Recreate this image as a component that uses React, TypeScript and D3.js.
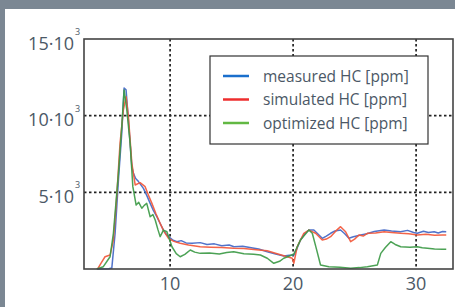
import React, { useEffect, useRef } from "react";
import * as d3 from "d3";

const W = 455;
const H = 307;

// time axis (x) and HC [ppm] (y)
const measured: [number, number][] = [
  [4.1, 0], [5.0, 20], [5.26, 60], [5.53, 2330], [5.8, 5800], [6.07, 8850], [6.26, 11800],
  [6.42, 11680], [6.61, 9720], [6.89, 6670], [7.02, 6240], [7.2, 5900], [7.43, 5700],
  [7.83, 5260], [8.1, 4800], [8.38, 4280], [8.65, 3800], [8.92, 3410], [9.2, 2950],
  [9.46, 2540], [9.7, 2250], [9.87, 2110], [10.2, 1900], [10.55, 1780], [10.9, 1850],
  [11.3, 1700], [11.8, 1680], [12.45, 1720], [13.0, 1600], [13.6, 1640], [14.2, 1520],
  [14.8, 1560], [15.2, 1450], [15.9, 1480], [16.6, 1380], [17.2, 1300], [17.9, 1130],
  [18.5, 1000], [19.24, 850], [19.7, 900], [20.06, 910], [20.3, 1300], [20.6, 1890],
  [20.95, 2300], [21.28, 2540], [21.69, 2540], [22.0, 2300], [22.37, 2000], [22.7, 2150],
  [23.05, 2330], [23.4, 2480], [23.86, 2540], [24.2, 2300], [24.54, 2000], [24.9, 2100],
  [25.5, 2220], [26.0, 2300], [26.6, 2450], [27.4, 2540], [28.0, 2480], [28.75, 2430],
  [29.3, 2520], [29.8, 2380], [30.1, 2330], [30.6, 2460], [31.0, 2380], [31.47, 2430],
  [31.8, 2350], [32.15, 2440], [32.45, 2430],
];

const simulated: [number, number][] = [
  [4.11, 0], [4.4, 400], [4.71, 800], [5.12, 910], [5.39, 1890], [5.66, 4720], [5.93, 8200],
  [6.2, 10370], [6.42, 11240], [6.61, 9940], [6.89, 6890], [7.16, 5480], [7.56, 5630],
  [7.97, 5370], [8.25, 4800], [8.52, 4280], [8.85, 3600], [9.19, 2980], [9.5, 2450],
  [9.87, 2000], [10.3, 1800], [10.82, 1680], [11.5, 1560], [12.45, 1450], [13.3, 1420],
  [14.2, 1400], [15.17, 1350], [16.0, 1330], [17.0, 1260], [17.89, 1190], [18.7, 1000],
  [19.52, 800], [19.93, 700], [20.06, 370], [20.33, 1450], [20.87, 2330], [21.28, 2540],
  [21.83, 2330], [22.37, 1890], [22.7, 1950], [23.05, 2110], [23.5, 2500], [23.86, 2760],
  [24.27, 2430], [24.68, 1780], [25.0, 1950], [25.36, 2220], [25.7, 2150], [26.04, 2330],
  [26.7, 2350], [27.4, 2430], [28.0, 2380], [28.75, 2330], [29.4, 2300], [30.1, 2220],
  [30.8, 2260], [31.5, 2200], [32.15, 2220], [32.45, 2220],
];

const optimized: [number, number][] = [
  [4.03, 0], [4.57, 150], [5.12, 800], [5.39, 2330], [5.8, 6240], [6.07, 9280], [6.26, 11680],
  [6.48, 10370], [6.75, 8200], [6.97, 5370], [7.24, 4170], [7.45, 4350], [7.7, 3960],
  [7.9, 4150], [8.1, 4280], [8.38, 3410], [8.6, 3550], [8.79, 3200], [9.0, 2600],
  [9.19, 2110], [9.46, 2540], [9.74, 2430], [10.15, 1450], [10.5, 1000], [10.82, 800],
  [11.2, 950], [11.64, 1240], [12.0, 1100], [12.45, 1020], [13.2, 1050], [14.0, 980],
  [14.6, 1080], [15.17, 1130], [16.0, 1000], [16.8, 960], [17.34, 910], [17.9, 700],
  [18.43, 370], [18.9, 500], [19.24, 700], [19.7, 850], [20.06, 980], [20.6, 1890],
  [21.28, 2540], [21.56, 2330], [21.9, 1300], [22.23, 260], [22.91, 150], [23.8, 120],
  [24.68, 50], [25.4, 90], [26.04, 150], [26.85, 260], [27.13, 1020], [27.5, 1400],
  [27.94, 1780], [28.3, 1600], [28.75, 1450], [29.5, 1420], [30.1, 1450], [30.5, 1380],
  [30.92, 1350], [31.5, 1310], [32.15, 1290], [32.45, 1290],
];

const seriesNames = ["measured HC [ppm]", "simulated HC [ppm]", "optimized HC [ppm]"];
const seriesData = [measured, simulated, optimized];
const lineColors = ["#4267c6", "#f2573a", "#3d9a47"];
const legendColors = ["#1a6fcc", "#ee2e2e", "#62b843"];

const xTicks = [10, 20, 30];
const yTicks = [5000, 10000, 15000];
const yTickLabels = ["5·10", "10·10", "15·10"];

const FONT = "'Open Sans', 'DejaVu Sans', sans-serif";
const TEXT = "#4b5866";

export default function App() {
  const ref = useRef<SVGSVGElement>(null);

  useEffect(() => {
    const svg = d3.select(ref.current);
    svg.selectAll("*").remove();

    const m = { left: 84, right: 2, top: 39, bottom: 38 };

    // gray frame around a white panel
    svg.append("rect").attr("width", W).attr("height", H).attr("fill", "#7b8793");
    svg.append("rect").attr("x", 5).attr("y", 9).attr("width", W - 5).attr("height", H - 9).attr("fill", "#ffffff");

    const x = d3.scaleLinear().domain([3, 33]).range([m.left, W - m.right]);
    const y = d3.scaleLinear().domain([0, 15000]).range([H - m.bottom, m.top]);

    const grid = svg.append("g");
    grid
      .selectAll(".vg")
      .data(xTicks)
      .join("line")
      .attr("x1", (d) => x(d))
      .attr("x2", (d) => x(d))
      .attr("y1", y(15000))
      .attr("y2", y(0))
      .attr("stroke", "#222")
      .attr("stroke-width", 1.7)
      .attr("stroke-dasharray", "2.5,2.5");
    grid
      .selectAll(".hg")
      .data(yTicks.filter((d) => d < 15000))
      .join("line")
      .attr("x1", x(3))
      .attr("x2", x(33))
      .attr("y1", (d) => y(d))
      .attr("y2", (d) => y(d))
      .attr("stroke", "#222")
      .attr("stroke-width", 1.7)
      .attr("stroke-dasharray", "2.5,2.5");

    const line = d3
      .line<[number, number]>()
      .x((d) => x(d[0]))
      .y((d) => y(d[1]));

    svg
      .append("g")
      .selectAll("path")
      .data(seriesData)
      .join("path")
      .attr("d", (d) => line(d))
      .attr("fill", "none")
      .attr("stroke", (_, i) => lineColors[i])
      .attr("stroke-width", 1.5)
      .attr("stroke-linejoin", "round")
      .attr("opacity", 0.92);

    // frame
    svg
      .append("rect")
      .attr("x", x(3))
      .attr("y", y(15000))
      .attr("width", x(33) - x(3))
      .attr("height", y(0) - y(15000))
      .attr("fill", "none")
      .attr("stroke", "#444")
      .attr("stroke-width", 1.6);

    // x tick labels
    svg
      .selectAll(".xt")
      .data(xTicks)
      .join("text")
      .attr("x", (d) => x(d))
      .attr("y", y(0) + 21)
      .attr("text-anchor", "middle")
      .attr("font-family", FONT)
      .attr("font-size", 18)
      .attr("fill", TEXT)
      .text((d) => d);

    // y tick labels with superscript exponent
    const yl = svg
      .selectAll(".yt")
      .data(yTicks)
      .join("g")
      .attr("transform", (d) => `translate(0,${y(d)})`);
    yl.append("text")
      .attr("x", 74)
      .attr("y", 10.5)
      .attr("text-anchor", "end")
      .attr("font-family", FONT)
      .attr("font-size", 18)
      .attr("fill", TEXT)
      .text((_, i) => yTickLabels[i]);
    yl.append("text")
      .attr("x", 75)
      .attr("y", -4)
      .attr("font-family", FONT)
      .attr("font-size", 9)
      .attr("fill", TEXT)
      .text("3");

    // legend
    const lg = svg.append("g");
    lg.append("rect")
      .attr("x", 210)
      .attr("y", 56)
      .attr("width", 218)
      .attr("height", 88)
      .attr("fill", "#ffffff")
      .attr("stroke", "#333")
      .attr("stroke-width", 1.2);
    const items = lg
      .selectAll(".li")
      .data(seriesNames)
      .join("g")
      .attr("transform", (_, i) => `translate(0,${76 + i * 23.5})`);
    items
      .append("line")
      .attr("x1", 223)
      .attr("x2", 249)
      .attr("stroke", (_, i) => legendColors[i])
      .attr("stroke-width", 2.5);
    items
      .append("text")
      .attr("x", 263)
      .attr("y", 5.5)
      .attr("font-family", FONT)
      .attr("font-size", 15.5)
      .attr("fill", TEXT)
      .text((d) => d);
  }, []);

  return (
    <svg
      ref={ref}
      width={W}
      height={H}
      style={{ position: "fixed", left: 0, top: 0, display: "block" }}
    />
  );
}
